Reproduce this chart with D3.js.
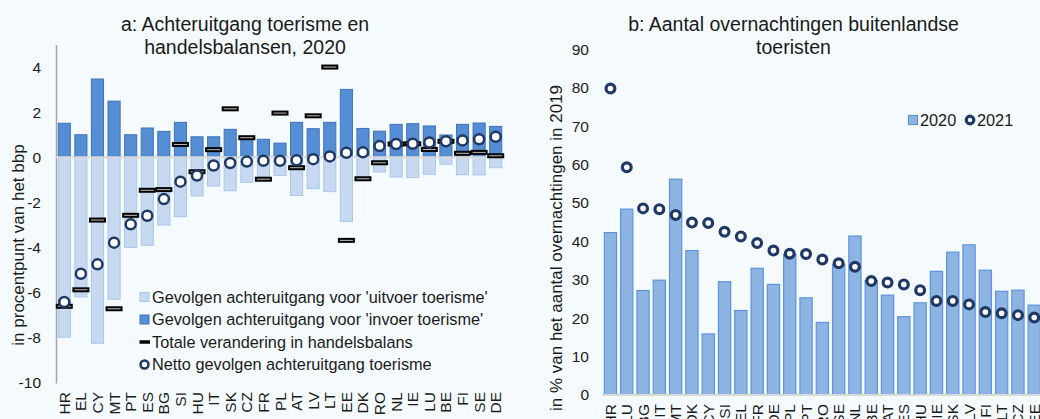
<!DOCTYPE html>
<html>
<head>
<meta charset="utf-8">
<script src="https://cdn.jsdelivr.net/npm/d3@7"></script>
<style>
  body { margin: 0; background: #f5fafe; }
  svg { display: block; font-family: "Liberation Sans", Arial, sans-serif; }
</style>
</head>
<body>
<div id="vis"></div>
<script>
// panel a: tourism decline and trade balances 2020 (pp of GDP)
var countriesA = ["HR","EL","CY","MT","PT","ES","BG","SI","HU","IT","SK","CZ","FR","PL","AT","LV","LT","EE","DK","RO","NL","IE","LU","BE","FI","SE","DE"];
var uitvoerA = [-7.97,-6.18,-8.24,-6.29,-3.99,-3.9,-3.0,-2.63,-1.71,-1.27,-1.48,-1.11,-0.86,-0.81,-1.69,-1.39,-1.52,-2.84,-1.0,-0.65,-0.87,-0.9,-0.75,-0.31,-0.77,-0.78,-0.46];
var invoerA = [1.51,1.0,3.47,2.49,1.0,1.3,1.15,1.55,0.91,0.91,1.24,0.9,0.8,0.63,1.55,1.27,1.55,3.01,1.28,1.16,1.46,1.49,1.39,0.99,1.46,1.52,1.37];
var totaalA = [-6.6,-5.87,-2.78,-6.71,-2.57,-1.46,-1.43,0.57,-0.64,0.34,2.15,0.87,-0.97,1.96,-0.46,1.84,4.0,-3.68,-0.95,-0.24,0.59,0.6,0.35,0.71,0.18,0.22,0.07];
var nettoA = [-6.41,-5.16,-4.74,-3.78,-2.97,-2.59,-1.85,-1.08,-0.81,-0.36,-0.25,-0.19,-0.15,-0.15,-0.13,-0.08,0.04,0.2,0.22,0.5,0.59,0.6,0.66,0.71,0.75,0.8,0.91];
var ticksA = [-10,-8,-6,-4,-2,0,2,4];

// panel b: foreign tourist nights, % of 2019
var countriesB = ["HR","LU","BG","IT","MT","DK","CY","SI","EL","FR","DE","PL","PT","RO","SE","NL","BE","AT","ES","HU","IE","SK","LV","FI","LT","CZ","EE"];
var y2020 = [42.3,48.4,27.2,29.9,56.2,37.6,15.9,29.5,22.0,33.0,28.8,36.6,25.3,18.9,34.0,41.4,29.8,26.0,20.4,24.0,32.2,37.2,39.1,32.5,27.0,27.3,23.4];
var y2021 = [79.8,59.3,48.6,48.4,46.9,44.9,44.8,42.5,41.3,39.6,37.6,36.8,36.7,35.3,34.3,33.4,29.7,29.3,28.8,27.3,24.5,24.5,23.6,21.6,21.3,20.8,20.2];
var ticksB = [0,10,20,30,40,50,60,70,80,90];

var W = 1040, H = 419;
var navy = "#1f3864";
var ink = "#1a1a1a";

var svg = d3.select("#vis").append("svg")
  .attr("width", W)
  .attr("height", H);

svg.append("rect").attr("width", W).attr("height", H).attr("fill", "#f5fafe");

// ---------- panel a ----------
var xa = d3.scaleBand()
  .domain(countriesA)
  .range([56, 504])
  .paddingInner(0.27)
  .paddingOuter(0.135);

var ya = d3.scaleLinear()
  .domain([-10, 5])
  .range([383, 44.5]);

var ga = svg.append("g");

ga.append("text")
  .attr("x", 245).attr("y", 31)
  .attr("text-anchor", "middle")
  .attr("font-size", 19.5)
  .attr("fill", ink)
  .text("a: Achteruitgang toerisme en");
ga.append("text")
  .attr("x", 245).attr("y", 54)
  .attr("text-anchor", "middle")
  .attr("font-size", 19.5)
  .attr("fill", ink)
  .text("handelsbalansen, 2020");

// y axis (plain hyphen for negatives, like the original)
var axA = ga.append("g")
  .attr("transform", "translate(56,0)")
  .call(d3.axisLeft(ya).tickValues(ticksA).tickSize(0).tickPadding(15)
    .tickFormat(function(d) { return String(d); }));
axA.select(".domain").attr("stroke", "#a6a6a6").attr("stroke-width", 1.5);
axA.selectAll("text").attr("font-size", 15.5).attr("fill", ink).attr("font-family", null);

ga.append("text")
  .attr("transform", "translate(24,245) rotate(-90)")
  .attr("text-anchor", "middle")
  .attr("font-size", 17)
  .attr("fill", ink)
  .text("in procentpunt van het bbp");

// bars
ga.append("g").selectAll("rect")
  .data(uitvoerA)
  .enter().append("rect")
  .attr("x", function(d, i) { return xa(countriesA[i]); })
  .attr("y", ya(0))
  .attr("width", xa.bandwidth())
  .attr("height", function(d) { return ya(d) - ya(0); })
  .attr("fill", "#c6d9f0")
  .attr("stroke", "#a9c7ec")
  .attr("stroke-width", 1);

ga.append("g").selectAll("rect")
  .data(invoerA)
  .enter().append("rect")
  .attr("x", function(d, i) { return xa(countriesA[i]); })
  .attr("y", function(d) { return ya(d); })
  .attr("width", xa.bandwidth())
  .attr("height", function(d) { return ya(0) - ya(d); })
  .attr("fill", "#558ed5")
  .attr("stroke", "#3f72b8")
  .attr("stroke-width", 1);

ga.append("line")
  .attr("x1", 56).attr("x2", 504)
  .attr("y1", ya(0)).attr("y2", ya(0))
  .attr("stroke", "#d9d9d9")
  .attr("stroke-width", 2);

// total change in trade balance
ga.append("g").selectAll("rect")
  .data(totaalA)
  .enter().append("rect")
  .attr("x", function(d, i) { return xa(countriesA[i]) + xa.bandwidth() / 2 - 7.5; })
  .attr("y", function(d) { return ya(d) - 1.5; })
  .attr("width", 15)
  .attr("height", 3)
  .attr("fill", "#c0c0c0")
  .attr("stroke", "#000")
  .attr("stroke-width", 2);

// net decline
ga.append("g").selectAll("circle")
  .data(nettoA)
  .enter().append("circle")
  .attr("cx", function(d, i) { return xa(countriesA[i]) + xa.bandwidth() / 2; })
  .attr("cy", function(d) { return ya(d); })
  .attr("r", 5)
  .attr("fill", "#fff")
  .attr("stroke", navy)
  .attr("stroke-width", 2.5);

// category labels
ga.append("g").selectAll("text")
  .data(countriesA)
  .enter().append("text")
  .attr("transform", function(d) { return "translate(" + (xa(d) + xa.bandwidth() / 2 + 5.5) + ",392) rotate(-90)"; })
  .attr("text-anchor", "end")
  .attr("font-size", 15.5)
  .attr("fill", ink)
  .text(function(d) { return d; });

// legend a
var legA = ga.append("g").attr("font-size", 16.3).attr("fill", ink);
var legItems = [
  "Gevolgen achteruitgang voor 'uitvoer toerisme'",
  "Gevolgen achteruitgang voor 'invoer toerisme'",
  "Totale verandering in handelsbalans",
  "Netto gevolgen achteruitgang toerisme"
];
var lg = legA.selectAll("g")
  .data(legItems)
  .enter().append("g")
  .attr("transform", function(d, i) { return "translate(0," + (297 + i * 22.5) + ")"; });

lg.append("text")
  .attr("x", 152)
  .attr("dy", "0.35em")
  .text(function(d) { return d; });

lg.filter(function(d, i) { return i == 0; }).append("rect")
  .attr("x", 140).attr("y", -4.5).attr("width", 9).attr("height", 9)
  .attr("fill", "#c6d9f0").attr("stroke", "#a9c7ec");
lg.filter(function(d, i) { return i == 1; }).append("rect")
  .attr("x", 140).attr("y", -4.5).attr("width", 9).attr("height", 9)
  .attr("fill", "#558ed5").attr("stroke", "#3f72b8");
lg.filter(function(d, i) { return i == 2; }).append("line")
  .attr("x1", 139.5).attr("x2", 150).attr("y1", 0).attr("y2", 0)
  .attr("stroke", "#000").attr("stroke-width", 3.5);
lg.filter(function(d, i) { return i == 3; }).append("circle")
  .attr("cx", 144.5).attr("cy", 0).attr("r", 4)
  .attr("fill", "#fff").attr("stroke", navy).attr("stroke-width", 2.5);

// ---------- panel b ----------
var xb = d3.scaleBand()
  .domain(countriesB)
  .range([602.3, 602.3 + 27 * 16.3])
  .paddingInner(0.25)
  .paddingOuter(0.125);

var yb = d3.scaleLinear()
  .domain([0, 90])
  .range([395, 49.4]);

var gb = svg.append("g");

gb.append("text")
  .attr("x", 793.5).attr("y", 31)
  .attr("text-anchor", "middle")
  .attr("font-size", 19.5)
  .attr("fill", ink)
  .text("b: Aantal overnachtingen buitenlandse");
gb.append("text")
  .attr("x", 793.5).attr("y", 54)
  .attr("text-anchor", "middle")
  .attr("font-size", 19.5)
  .attr("fill", ink)
  .text("toeristen");

var axB = gb.append("g")
  .attr("transform", "translate(602,0)")
  .call(d3.axisLeft(yb).tickValues(ticksB).tickSize(0).tickPadding(13));
axB.select(".domain").remove();
axB.selectAll("text").attr("font-size", 15.5).attr("fill", ink).attr("font-family", null);

gb.append("text")
  .attr("transform", "translate(562,248) rotate(-90)")
  .attr("text-anchor", "middle")
  .attr("font-size", 17)
  .attr("fill", ink)
  .text("in % van het aantal overnachtingen in 2019");

gb.append("g").selectAll("rect")
  .data(y2020)
  .enter().append("rect")
  .attr("x", function(d, i) { return xb(countriesB[i]); })
  .attr("y", function(d) { return yb(d); })
  .attr("width", xb.bandwidth())
  .attr("height", function(d) { return yb(0) - yb(d); })
  .attr("fill", "#8db4e3")
  .attr("stroke", "#5d94d9")
  .attr("stroke-width", 1.2);

gb.append("line")
  .attr("x1", 602).attr("x2", W)
  .attr("y1", yb(0)).attr("y2", yb(0))
  .attr("stroke", "#d9d9d9")
  .attr("stroke-width", 2);

gb.append("g").selectAll("circle")
  .data(y2021)
  .enter().append("circle")
  .attr("cx", function(d, i) { return xb(countriesB[i]) + xb.bandwidth() / 2; })
  .attr("cy", function(d) { return yb(d); })
  .attr("r", 4.4)
  .attr("fill", "#fff")
  .attr("stroke", navy)
  .attr("stroke-width", 3.2);

// country labels below panel b run off the bottom edge, as in the original
gb.append("g").selectAll("text")
  .data(countriesB)
  .enter().append("text")
  .attr("transform", function(d) { return "translate(" + (xb(d) + xb.bandwidth() / 2 + 5.5) + ",404) rotate(-90)"; })
  .attr("text-anchor", "end")
  .attr("font-size", 15.5)
  .attr("fill", ink)
  .text(function(d) { return d; });

// legend b
var legB = gb.append("g").attr("font-size", 16.3).attr("fill", ink);
legB.append("rect")
  .attr("x", 908.5).attr("y", 115.5).attr("width", 9).attr("height", 9)
  .attr("fill", "#8db4e3").attr("stroke", "#5d94d9").attr("stroke-width", 1.2);
legB.append("text").attr("x", 920).attr("y", 120).attr("dy", "0.35em").text("2020");
legB.append("circle")
  .attr("cx", 970).attr("cy", 120).attr("r", 3.8)
  .attr("fill", "#fff").attr("stroke", navy).attr("stroke-width", 3.2);
legB.append("text").attr("x", 977).attr("y", 120).attr("dy", "0.35em").text("2021");
</script>
</body>
</html>
